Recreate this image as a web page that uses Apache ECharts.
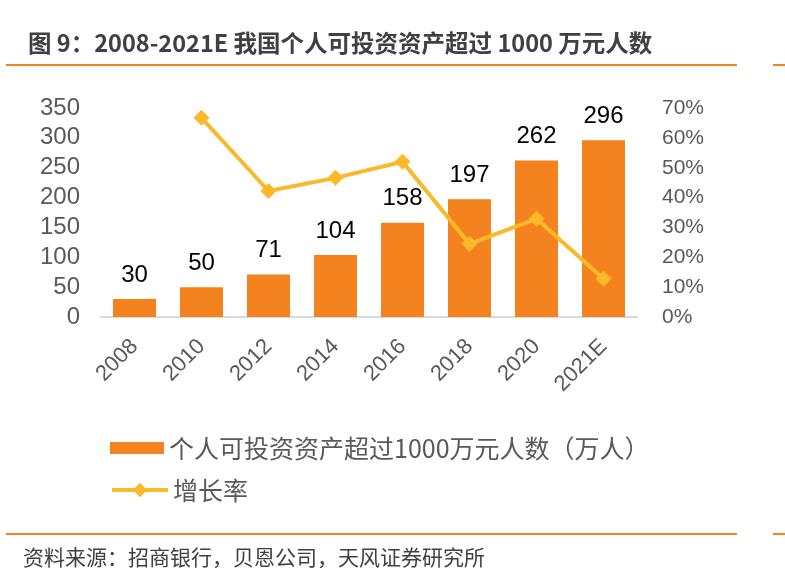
<!DOCTYPE html>
<html>
<head>
<meta charset="utf-8">
<script src="https://cdn.jsdelivr.net/npm/echarts@6/dist/echarts.min.js"></script>
<style>
html,body{margin:0;padding:0;background:#fff;}
#c{width:785px;height:586px;}
</style>
</head>
<body>
<div id="c"></div>
<script>
var categories = ['2008','2010','2012','2014','2016','2018','2020','2021E'];
var people = [30, 50, 71, 104, 158, 197, 262, 296];
var growth = [null, 66.7, 42.2, 46.6, 52.0, 24.5, 32.9, 12.8];
var leftTicks = {min: 0, max: 350, interval: 50};
var rightTicks = {min: 0, max: 70, interval: 10};

var ORANGE = '#F4821F';
var GOLD = '#FBB829';
var CJK = '"Noto Sans CJK SC", sans-serif';
var LAT = '"Liberation Sans", Arial, sans-serif';
var BAR_NAME = '个人可投资资产超过1000万元人数（万人）';
var LINE_NAME = '增长率';

var chart = echarts.init(document.getElementById('c'), null, {renderer: 'canvas'});
chart.setOption({
  backgroundColor: '#ffffff',
  animation: false,
  title: {
    text: '图 9：2008-2021E 我国个人可投资资产超过 1000 万元人数',
    left: 23, top: 26,
    textStyle: {fontFamily: CJK, fontSize: 23.5, fontWeight: 'bold', color: '#404040'}
  },
  graphic: [
    {type: 'rect', shape: {x: 6, y: 64, width: 731, height: 2}, style: {fill: ORANGE}},
    {type: 'rect', shape: {x: 773, y: 64, width: 12, height: 2}, style: {fill: ORANGE}},
    {type: 'rect', shape: {x: 6, y: 533, width: 731, height: 2}, style: {fill: ORANGE}},
    {type: 'rect', shape: {x: 773, y: 533, width: 12, height: 2}, style: {fill: ORANGE}},
    {type: 'text', left: 23, top: 547, style: {text: '资料来源：招商银行，贝恩公司，天风证券研究所', font: '21px ' + CJK, fill: '#404040'}}
  ],
  legend: [
    {
      orient: 'vertical', left: 105, top: 428, padding: 5,
      itemWidth: 54, itemHeight: 12,
      textStyle: {fontFamily: CJK, fontSize: 25, color: '#595959', lineHeight: 30},
      data: [{name: BAR_NAME, icon: 'rect'}]
    },
    {
      orient: 'vertical', left: 105, top: 470, padding: 5,
      itemWidth: 56, itemHeight: 18,
      textStyle: {fontFamily: CJK, fontSize: 25, color: '#595959', lineHeight: 30},
      data: [{name: LINE_NAME, lineStyle: {width: 4, color: GOLD}, itemStyle: {color: GOLD}}]
    }
  ],
  grid: {left: 101, right: 148, top: 108, bottom: 269},
  xAxis: {
    type: 'category',
    data: categories,
    axisLine: {lineStyle: {color: '#D9D9D9', width: 2}},
    axisTick: {show: false},
    axisLabel: {rotate: 45, margin: 26, fontFamily: LAT, fontSize: 22, color: '#595959'}
  },
  yAxis: [
    {
      type: 'value', min: leftTicks.min, max: leftTicks.max, interval: leftTicks.interval,
      splitLine: {show: false}, axisLine: {show: false}, axisTick: {show: false},
      axisLabel: {margin: 21, fontFamily: LAT, fontSize: 24, color: '#595959'}
    },
    {
      type: 'value', min: rightTicks.min, max: rightTicks.max, interval: rightTicks.interval,
      splitLine: {show: false}, axisLine: {show: false}, axisTick: {show: false},
      axisLabel: {margin: 25, fontFamily: LAT, fontSize: 21, color: '#595959', formatter: '{value}%'}
    }
  ],
  series: [
    {
      name: BAR_NAME,
      type: 'bar',
      data: people,
      barWidth: 43,
      itemStyle: {color: ORANGE},
      label: {show: true, position: 'top', distance: 12, fontFamily: LAT, fontSize: 24, color: '#000000'},
      z: 2
    },
    {
      name: LINE_NAME,
      type: 'line',
      yAxisIndex: 1,
      data: growth,
      symbol: 'diamond',
      symbolSize: 16,
      lineStyle: {color: GOLD, width: 4},
      itemStyle: {color: GOLD},
      z: 3
    }
  ]
});
</script>
</body>
</html>
